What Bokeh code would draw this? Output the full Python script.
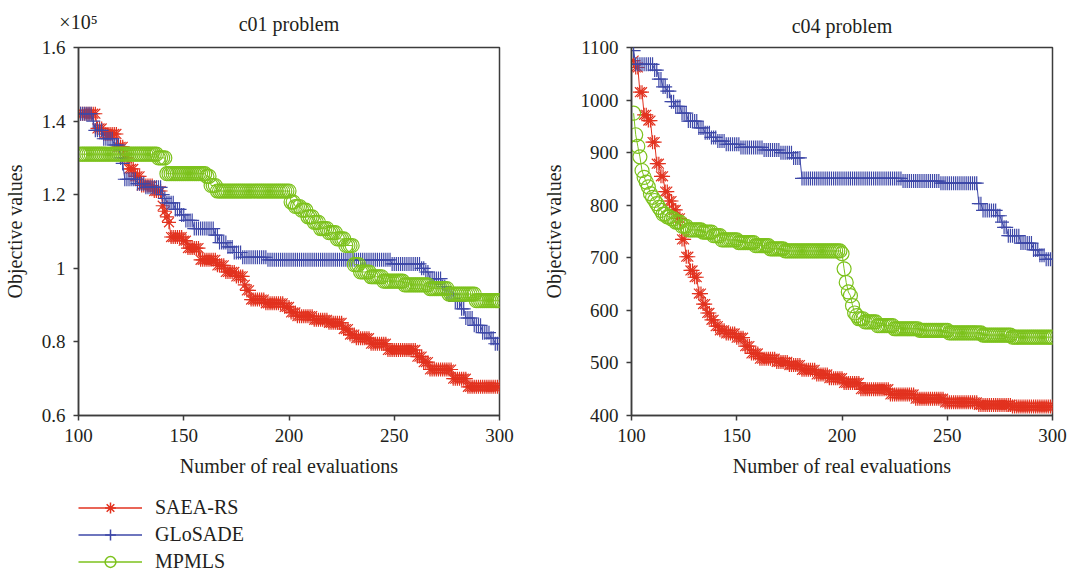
import numpy as np
from bokeh.plotting import figure
from bokeh.models import Range1d, FixedTicker, LinearAxis, Legend, LegendItem
from bokeh.layouts import column, row
from bokeh.embed import file_html
from bokeh.resources import INLINE

# evaluations 101..300; every series is stored as plateaus:
# value held for `runs` consecutive evaluations (best-so-far curves are step shaped)
eval_first = 101
eval_last = 300

# ---- c01 problem (objective values in units of 10^5) ----
c01_saea_vals = [1.42, 1.38, 1.365, 1.33, 1.30, 1.27, 1.25, 1.225, 1.21, 1.17, 1.155, 1.14, 1.125,
                 1.085, 1.075, 1.055, 1.023, 1.008, 0.99, 0.978, 0.955, 0.94, 0.915, 0.905, 0.895,
                 0.88, 0.87, 0.86, 0.852, 0.835, 0.82, 0.81, 0.795, 0.778, 0.76, 0.745, 0.725,
                 0.70, 0.678]
c01_saea_runs = [8, 3, 7, 3, 2, 3, 3, 6, 4, 1, 1, 1, 1,
                 6, 2, 6, 8, 4, 5, 4, 1, 2, 7, 9, 3,
                 3, 8, 7, 7, 3, 3, 7, 8, 14, 3, 3, 11,
                 7, 16]

c01_glo_vals = [1.42, 1.40, 1.375, 1.352, 1.335, 1.30, 1.285, 1.242, 1.23, 1.22, 1.20, 1.19,
                1.178, 1.16, 1.145, 1.13, 1.108, 1.09, 1.07, 1.058, 1.043, 1.03, 1.023, 1.012,
                1.00, 0.99, 0.972, 0.95, 0.93, 0.91, 0.89, 0.865, 0.845, 0.825, 0.81, 0.795]
c01_glo_runs = [6, 1, 4, 5, 3, 1, 1, 6, 4, 8, 1, 1,
                4, 3, 2, 4, 10, 2, 4, 3, 4, 12, 59, 14,
                2, 2, 6, 2, 4, 3, 2, 4, 4, 4, 2, 3]

c01_mp_vals = [1.31, 1.30, 1.257, 1.25, 1.225, 1.21, 1.18, 1.168, 1.158, 1.14, 1.125, 1.108,
               1.097, 1.08, 1.062, 1.01, 0.99, 0.977, 0.965, 0.955, 0.945, 0.93, 0.912]
c01_mp_runs = [37, 4, 19, 2, 3, 35, 2, 3, 3, 3, 3, 4,
               4, 4, 4, 3, 5, 6, 10, 12, 9, 13, 12]

# ---- c04 problem ----
c04_saea_vals = [1075, 1062, 1015, 972, 961, 920, 879, 855, 826, 808, 791, 775, 735, 702, 676,
                 663, 632, 612, 595, 582, 570, 562, 556, 548, 532, 518, 508, 502, 496, 487,
                 478, 471, 462, 450, 440, 432, 425, 420, 417]
c04_saea_runs = [1, 2, 2, 2, 2, 2, 2, 2, 2, 2, 2, 2, 2, 2, 2,
                 2, 2, 2, 2, 2, 2, 3, 5, 4, 3, 4, 8, 6, 6, 7,
                 6, 7, 8, 14, 12, 14, 16, 16, 20]

c04_glo_vals = [1094, 1068, 1057, 1040, 1025, 1017, 997, 988, 975, 960, 947, 938, 929, 922,
                916, 910, 905, 900, 890, 851, 846, 842, 803, 790, 780, 768, 758, 742, 728,
                715, 705, 697]
c04_glo_runs = [1, 9, 2, 2, 2, 2, 2, 3, 3, 5, 3, 3, 3, 4,
                7, 11, 8, 6, 4, 48, 18, 18, 2, 7, 2, 1, 2, 6, 6,
                3, 3, 4]

c04_mp_vals = [975, 934, 912, 892, 866, 853, 844, 835, 822, 815, 809, 803, 796, 790, 783, 778,
               774, 768, 760, 753, 749, 742, 734, 729, 723, 717, 713, 708, 679, 653, 635, 628,
               609, 595, 590, 584, 578, 571, 565, 562, 557, 553, 549]
c04_mp_runs = [1, 1, 1, 1, 1, 1, 1, 1, 1, 1, 1, 1, 1, 1, 2, 2,
               2, 3, 3, 7, 5, 4, 8, 8, 7, 7, 27, 1, 1, 1, 1, 1,
               1, 1, 1, 3, 6, 8, 12, 14, 16, 14, 20]

series_names = ["SAEA-RS", "GLoSADE", "MPMLS"]
x_ticks = [100, 150, 200, 250, 300]
c01_y_ticks = [0.6, 0.8, 1.0, 1.2, 1.4, 1.6]
c01_y_tick_labels = ["0.6", "0.8", "1", "1.2", "1.4", "1.6"]
c01_multiplier = "×10⁵"
c04_y_ticks = [400, 500, 600, 700, 800, 900, 1000, 1100]

FONT = "Liberation Serif"
TXT = "#231f20"
AX = "#3c3c3c"
RED, BLUE, GREEN = "#e2321f", "#3e48a8", "#7cc21c"
MARKERS = ["asterisk", "cross", "circle"]
COLORS = [RED, BLUE, GREEN]

evals = np.arange(eval_first, eval_last + 1)


def steps(vals, runs):
    return np.repeat(np.array(vals, dtype=float), runs)


def make_fig(title, yr, yticks, left, right, width):
    p = figure(width=width, height=483, x_range=Range1d(100, 300), y_range=Range1d(*yr),
               toolbar_location=None, output_backend="svg",
               min_border_left=left, min_border_right=right,
               min_border_top=47, min_border_bottom=68)
    p.title.text = title
    p.title.align = "center"
    p.title.text_font = FONT
    p.title.text_font_style = "normal"
    p.title.text_font_size = "20px"
    p.title.text_color = TXT
    p.title.standoff = 21
    p.outline_line_color = AX
    p.outline_line_width = 1.5
    p.outline_line_alpha = 1
    p.grid.visible = False
    p.xaxis.ticker = FixedTicker(ticks=x_ticks)
    p.yaxis.ticker = FixedTicker(ticks=yticks)
    p.xaxis.axis_label = "Number of real evaluations"
    p.yaxis.axis_label = "Objective values"
    for ax in (p.xaxis[0], p.yaxis[0]):
        ax.axis_label_text_font = FONT
        ax.axis_label_text_font_style = "normal"
        ax.axis_label_text_font_size = "20px"
        ax.axis_label_text_color = TXT
        ax.major_label_text_font = FONT
        ax.major_label_text_font_size = "19px"
        ax.major_label_text_color = TXT
        ax.axis_line_color = AX
        ax.axis_line_width = 1.5
        ax.major_tick_line_color = AX
        ax.major_tick_line_width = 1.5
        ax.major_tick_out = 5
        ax.major_tick_in = 0
        ax.minor_tick_out = 0
        ax.minor_tick_in = 0
        ax.major_label_standoff = 8
    p.xaxis.axis_label_standoff = 10
    p.yaxis.axis_label_standoff = 13
    return p


def add_series(p, ys_list):
    for ys, mk, col in zip(ys_list, MARKERS, COLORS):
        p.line(evals, ys, line_color=col, line_width=1)
        p.scatter(evals, ys, marker=mk, size=14, line_color=col, fill_color=None,
                  line_width=1.2)


p1 = make_fig("", (0.6, 1.6), c01_y_ticks, 78, 31, 530)
p1.yaxis.major_label_overrides = {t: s for t, s in zip(c01_y_ticks, c01_y_tick_labels)}
add_series(p1, [steps(c01_saea_vals, c01_saea_runs),
                steps(c01_glo_vals, c01_glo_runs),
                steps(c01_mp_vals, c01_mp_runs)])
# top axis carrying the "×10^5" multiplier at the left corner and the panel title
top = LinearAxis(ticker=FixedTicker(ticks=[100]), major_label_overrides={100: c01_multiplier})
top.axis_line_color = None
top.major_tick_line_color = None
top.minor_tick_line_color = None
top.major_tick_out = 0
top.major_tick_in = 0
top.minor_tick_out = 0
top.minor_tick_in = 0
top.major_label_standoff = 15
top.major_label_text_font = FONT
top.major_label_text_font_size = "20px"
top.major_label_text_color = TXT
top.axis_label = "c01 problem"
top.axis_label_standoff = -27
top.axis_label_text_font = FONT
top.axis_label_text_font_style = "normal"
top.axis_label_text_font_size = "20px"
top.axis_label_text_color = TXT
p1.add_layout(top, "above")

p2 = make_fig("c04 problem", (400, 1100), c04_y_ticks, 101, 16, 538)
add_series(p2, [steps(c04_saea_vals, c04_saea_runs),
                steps(c04_glo_vals, c04_glo_runs),
                steps(c04_mp_vals, c04_mp_runs)])

# legend panel below
leg = figure(width=1068, height=90, x_range=Range1d(0, 1), y_range=Range1d(0, 1),
             toolbar_location=None, output_backend="svg", min_border=0,
             x_axis_location=None, y_axis_location=None, outline_line_color=None)
leg.grid.visible = False
items = []
for name, mk, col in zip(series_names, MARKERS, COLORS):
    rl = leg.line([np.nan], [np.nan], line_color=col, line_width=1.5)
    rs = leg.scatter([np.nan], [np.nan], marker=mk, size=14, line_color=col,
                     fill_color=None, line_width=1.5)
    items.append(LegendItem(label=name, renderers=[rl, rs]))
legend = Legend(items=items, location=(78, -2), glyph_width=64, glyph_height=27,
                label_height=27, spacing=0, padding=0, margin=0, label_standoff=13,
                border_line_color=None, background_fill_alpha=0,
                label_text_font=FONT, label_text_font_size="20px", label_text_color=TXT)
leg.add_layout(legend)

layout = column(row(p1, p2), leg)
open("out.html", "w").write(file_html(layout, INLINE))
